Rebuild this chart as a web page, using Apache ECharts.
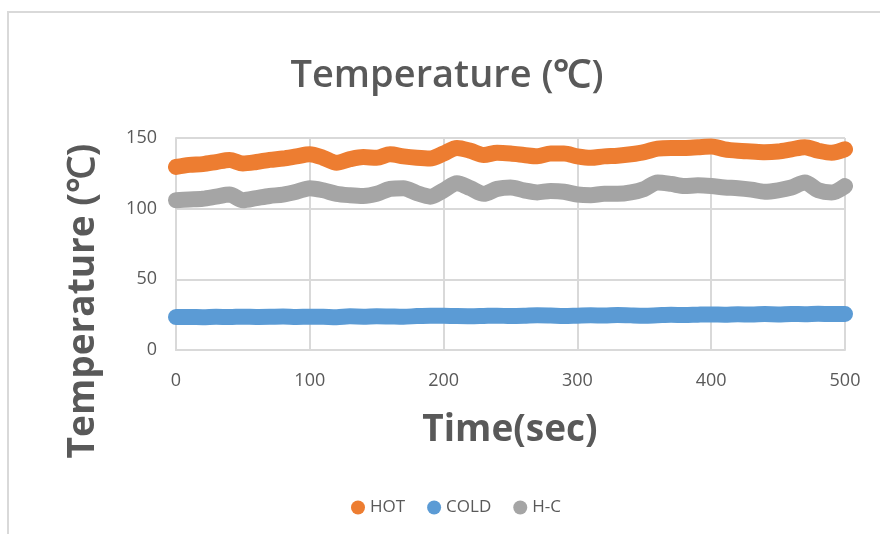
<!DOCTYPE html>
<html>
<head>
<meta charset="utf-8">
<title>Temperature</title>
<script src="https://cdn.jsdelivr.net/npm/echarts@6/dist/echarts.min.js"></script>
<style>
  html, body { margin: 0; padding: 0; background: #fff; }
  #chart { width: 880px; height: 534px; }
</style>
</head>
<body>
<div id="chart"></div>
<script>
// time axis (sec), one reading every 10 s
var timeSec = [0, 10, 20, 30, 40, 50, 60, 70, 80, 90,
  100, 110, 120, 130, 140, 150, 160, 170, 180, 190,
  200, 210, 220, 230, 240, 250, 260, 270, 280, 290,
  300, 310, 320, 330, 340, 350, 360, 370, 380, 390,
  400, 410, 420, 430, 440, 450, 460, 470, 480, 490, 500]

var hot = [129.5, 131, 131.5, 133, 134.5, 132, 133, 134.5, 135.5, 137,
  138.5, 136, 132.5, 135, 136.5, 136, 138.5, 137, 136, 135.5,
  139, 143, 141, 138, 139.5, 139, 138, 137, 139, 139,
  137, 136, 137, 137.5, 138.5, 140, 142.5, 143, 143, 143.5,
  144, 142, 141, 140.5, 140, 140.5, 142, 143.5, 141, 139.5, 142]

var cold = [23.3, 23.4, 23.2, 23.5, 23.3, 23.6, 23.4, 23.5, 23.7, 23.4,
  23.6, 23.5, 23.2, 23.8, 23.6, 23.9, 23.7, 23.5, 24.0, 24.3,
  24.2, 24.0, 23.9, 24.1, 24.3, 24.0, 24.2, 24.6, 24.4, 24.1,
  24.3, 24.5, 24.4, 24.8, 24.5, 24.3, 24.6, 24.9, 24.7, 25.0,
  25.2, 25.0, 25.3, 25.1, 25.4, 25.2, 25.5, 25.3, 25.6, 25.4, 25.5]

var hc = [106, 106.5, 107, 108.5, 110, 106, 107.5, 109, 110, 112,
  114.5, 113, 110.5, 109.5, 109, 110.5, 114, 114.5, 111, 108.5,
  113, 118, 114.5, 110.5, 114, 115, 113, 111.5, 112.5, 112,
  110, 109.5, 110.5, 110.5, 111.5, 114, 118.5, 117.5, 116, 116.5,
  116, 115, 114.5, 113.5, 112, 113, 115, 118.5, 113, 111.5, 116]

var xTicks = [0, 100, 200, 300, 400, 500]
var yTicks = [0, 50, 100, 150]

var seriesNames = ['HOT', 'COLD', 'H-C']
var seriesColors = ['#ED7D31', '#5B9BD5', '#A5A5A5']

function pairs(ys) {
  return timeSec.map(function(t, i) {
    return [t, ys[i]]
  })
}

var chart = echarts.init(document.getElementById('chart'))

var textGray = '#595959'
var gridGray = '#d9d9d9'

chart.setOption({
  animation: false,
  grid: {
    left: 176,
    right: 35,
    top: 138,
    bottom: 184
  },
  graphic: [
    {
      type: 'rect',
      shape: { x: 8, y: 12, width: 900, height: 540 },
      style: { fill: 'none', stroke: gridGray, lineWidth: 2 },
      silent: true
    },
    {
      type: 'text',
      x: 447,
      y: 76,
      style: {
        text: 'Temperature (℃)',
        fill: textGray,
        font: '600 38px "Open Sans"',
        align: 'center',
        verticalAlign: 'middle'
      }
    },
    {
      type: 'text',
      x: 83,
      y: 301,
      rotation: Math.PI / 2,
      style: {
        text: 'Temperature (℃)',
        fill: textGray,
        font: 'bold 37px "Open Sans"',
        align: 'center',
        verticalAlign: 'middle'
      }
    },
    {
      type: 'text',
      x: 510,
      y: 430,
      style: {
        text: 'Time(sec)',
        fill: textGray,
        font: 'bold 37px "Open Sans"',
        align: 'center',
        verticalAlign: 'middle'
      }
    }
  ],
  legend: {
    data: seriesNames,
    left: 346,
    top: 494,
    icon: 'circle',
    itemWidth: 14,
    itemHeight: 14,
    itemGap: 22,
    textStyle: {
      color: textGray,
      fontSize: 17,
      fontFamily: 'Open Sans'
    }
  },
  xAxis: {
    type: 'value',
    min: xTicks[0],
    max: xTicks[xTicks.length - 1],
    interval: 100,
    axisLine: { lineStyle: { color: gridGray, width: 2 } },
    axisTick: { show: false },
    splitLine: { lineStyle: { color: gridGray, width: 2 } },
    axisLabel: {
      color: textGray,
      fontSize: 18,
      fontFamily: 'Open Sans',
      margin: 22
    }
  },
  yAxis: {
    type: 'value',
    min: yTicks[0],
    max: yTicks[yTicks.length - 1],
    interval: 50,
    axisLine: { show: true, lineStyle: { color: gridGray, width: 2 } },
    axisTick: { show: false },
    splitLine: { lineStyle: { color: gridGray, width: 2 } },
    axisLabel: {
      color: textGray,
      fontSize: 18,
      fontFamily: 'Open Sans',
      margin: 19
    }
  },
  series: seriesNames.map(function(name, i) {
    return {
      name: name,
      type: 'line',
      data: pairs([hot, cold, hc][i]),
      color: seriesColors[i],
      showSymbol: false,
      symbol: 'circle',
      smooth: 0.3,
      lineStyle: { width: 16, cap: 'round', join: 'round' }
    }
  })
})
</script>
</body>
</html>
